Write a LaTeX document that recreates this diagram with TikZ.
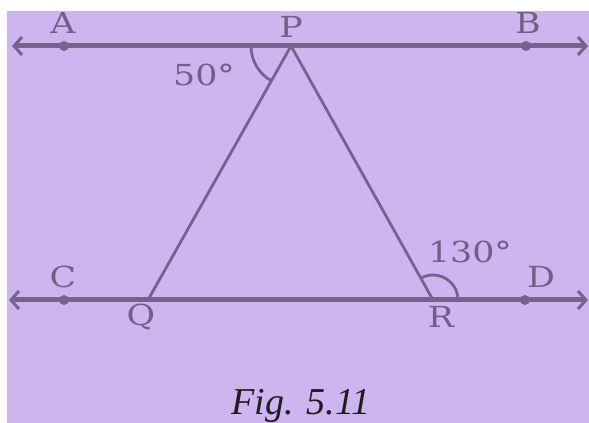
\documentclass[tikz,border=0pt]{standalone}
\usepackage{fontspec}
\usepackage{graphicx}
\usetikzlibrary{arrows.meta,calc}
\newfontfamily\capfont{Liberation Serif}
\newfontfamily\lblfont{DejaVu Serif}
\definecolor{bgpurple}{RGB}{207,181,240}
\definecolor{linepurple}{RGB}{116,100,140}
\definecolor{textpurple}{RGB}{112,96,134}
\newcommand{\lbl}[1]{\scalebox{1.2}[1]{\lblfont\fontsize{29}{35}\selectfont #1}}
\tikzset{
  parline/.style={draw=linepurple, line width=5pt,
    {Straight Barb[length=8pt,width=18pt,line width=3pt]}-{Straight Barb[length=8pt,width=18pt,line width=3pt]}},
  side/.style={draw=linepurple, line width=2.8pt},
  anglearc/.style={draw=linepurple, line width=2.8pt},
  ptdot/.style={circle, fill=linepurple, inner sep=0pt, minimum size=10pt},
  ptlabel/.style={text=textpurple, anchor=base, inner sep=0pt},
}
\begin{document}
\begin{tikzpicture}[x=1pt,y=1pt]
\useasboundingbox (0,0) rectangle (589,423);
\fill[white] (0,0) rectangle (589,423);
\fill[bgpurple] (7,0) rectangle (589,412);
% line ends
\coordinate (ABl) at (12,377);
\coordinate (ABr) at (588,377);
\coordinate (CDl) at (9,123);
\coordinate (CDr) at (588,123);
\coordinate (P) at (291,377);
\coordinate (Q) at (148,123);
\coordinate (R) at (433,123);
% parallel lines
\draw[parline] (ABl) -- (ABr);
\draw[parline] (CDl) -- (CDr);
% triangle sides
\draw[side] (Q) -- (P) -- (R);
% dots
\node[ptdot] (A) at (64,377) {};
\node[ptdot] (B) at (526,377) {};
\node[ptdot] (C) at (64,123) {};
\node[ptdot] (D) at (525,123) {};
% angle arcs
\draw[anglearc] ($(P)+(180:40)$) arc[start angle=180, end angle=240.6, radius=40];
\draw[anglearc] ($(R)+(0:25)$) arc[start angle=0, end angle=119.2, radius=25];
% labels
\node[ptlabel] (lA) at (63,389) {\lbl{A}};
\node[ptlabel] (lP) at (291,385) {\lbl{P}};
\node[ptlabel] (lB) at (528,389) {\lbl{B}};
\node[ptlabel] (lC) at (63,135) {\lbl{C}};
\node[ptlabel] (lD) at (541,135) {\lbl{D}};
\node[ptlabel] (lQ) at (141,97) {\lbl{Q}};
\node[ptlabel] (lR) at (441,95) {\lbl{R}};
\node[ptlabel] (l50) at (204,337) {\lbl{50°}};
\node[ptlabel] (l130) at (470,160) {\lbl{130°}};
\node[anchor=base, inner sep=0pt, text={rgb,255:red,30;green,30;blue,30}] (cap) at (301,9) {\capfont\itshape\fontsize{38}{44}\selectfont Fig. 5.11};
\end{tikzpicture}
\end{document}
